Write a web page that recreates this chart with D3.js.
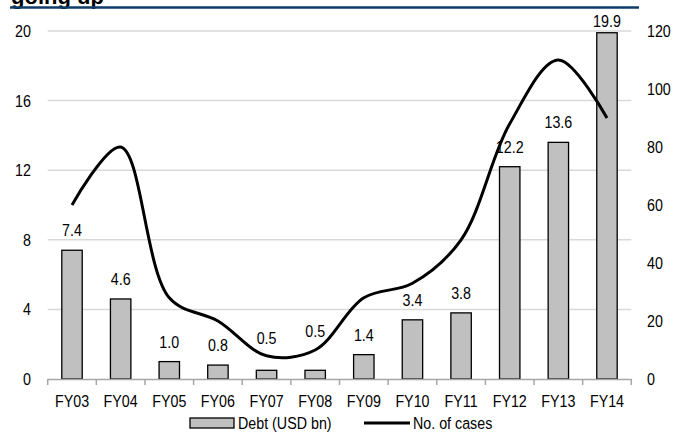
<!DOCTYPE html>
<html>
<head>
<meta charset="utf-8">
<script src="https://cdn.jsdelivr.net/npm/d3@7"></script>
<style>
body { margin:0; background:#fff; }
svg text { font-family:"Liberation Sans",Arial,sans-serif; fill:#000; }
</style>
</head>
<body>
<div id="graph"></div>
<script>
var years = ['FY03','FY04','FY05','FY06','FY07','FY08','FY09','FY10','FY11','FY12','FY13','FY14']
var debt = [7.4, 4.6, 1.0, 0.8, 0.5, 0.5, 1.4, 3.4, 3.8, 12.2, 13.6, 19.9]
var cases = [60, 80, 28, 20, 8, 10, 28, 33, 48, 88, 110, 90]
var leftTicks = [0, 4, 8, 12, 16, 20]
var rightTicks = [0, 20, 40, 60, 80, 100, 120]

// extra lift of some bar labels, as in the source chart (layout only)
var labelLift = [0, 0, 0, 0, 12, 19, 0, 0, 0, 0, 0, 0]

var width = 684
var height = 435
var marginLeft = 47.7
var marginRight = 52.7
var marginTop = 31
var plotBottom = 379
var narrow = 0.84
var fontSize = '17px'

var svg = d3.select('#graph').append('svg')
	.attr('width', width)
	.attr('height', height)

// narrow text: Arial Narrow look by squeezing Liberation Sans
function addText(x, y, txt, anchor) {
	return svg.append('text')
		.attr('transform', 'translate(' + x + ',' + y + ') scale(' + narrow + ',1)')
		.attr('text-anchor', anchor || 'start')
		.style('font-size', fontSize)
		.text(txt)
}

// title, cut off at the top
svg.append('text')
	.attr('x', 11)
	.attr('y', 4)
	.style('font-weight', 'bold')
	.style('font-size', '22px')
	.text('going up')
svg.append('line')
	.attr('x1', 10).attr('x2', 639)
	.attr('y1', 7.5).attr('y2', 7.5)
	.attr('stroke', '#0d3c6b')
	.attr('stroke-width', 2.5)

var xScale = d3.scaleBand()
	.domain(years)
	.range([marginLeft, width - marginRight])
	.paddingInner(0.58)
	.paddingOuter(0.29)

var yLeft = d3.scaleLinear()
	.domain([0, 20])
	.range([plotBottom, marginTop])

var yRight = d3.scaleLinear()
	.domain([0, 120])
	.range([plotBottom, marginTop])

// gridlines
svg.selectAll('.grid')
	.data(leftTicks.slice(1))
	.enter().append('line')
	.attr('class', 'grid')
	.attr('x1', marginLeft).attr('x2', width - marginRight)
	.attr('y1', function(d){ return yLeft(d) })
	.attr('y2', function(d){ return yLeft(d) })
	.attr('stroke', '#d9d9d9')
	.attr('stroke-width', 1.5)

// axis labels
leftTicks.forEach(function(d){
	addText(31, yLeft(d) + 6, d, 'end')
})
rightTicks.forEach(function(d){
	addText(647, yRight(d) + 6, d, 'start')
})

// bars
svg.selectAll('.bar')
	.data(debt)
	.enter().append('rect')
	.attr('class', 'bar')
	.attr('x', function(d, i){ return xScale(years[i]) })
	.attr('width', xScale.bandwidth())
	.attr('y', function(d){ return yLeft(d) })
	.attr('height', function(d){ return plotBottom - yLeft(d) })
	.attr('fill', '#c0c0c0')
	.attr('stroke', '#000')
	.attr('stroke-width', 1.3)

// bar labels
debt.forEach(function(d, i){
	var cx = xScale(years[i]) + xScale.bandwidth() / 2
	var y = Math.max(yLeft(d) - 14 - labelLift[i], 27)
	addText(cx, y, d.toFixed(1), 'middle')
})

// x axis
var step = xScale.step()
svg.append('line')
	.attr('x1', marginLeft).attr('x2', width - marginRight)
	.attr('y1', plotBottom + 0.5).attr('y2', plotBottom + 0.5)
	.attr('stroke', '#a6a6a6')
	.attr('stroke-width', 1.5)
svg.selectAll('.xt')
	.data(d3.range(years.length + 1))
	.enter().append('line')
	.attr('class', 'xt')
	.attr('x1', function(i){ return marginLeft + i * step })
	.attr('x2', function(i){ return marginLeft + i * step })
	.attr('y1', plotBottom).attr('y2', plotBottom + 6)
	.attr('stroke', '#a6a6a6')
	.attr('stroke-width', 1.5)
years.forEach(function(d){
	addText(xScale(d) + xScale.bandwidth() / 2, 407, d, 'middle')
})

// line
var line = d3.line()
	.x(function(d, i){ return xScale(years[i]) + xScale.bandwidth() / 2 })
	.y(function(d){ return yRight(d) })
	.curve(d3.curveCatmullRom.alpha(0.5))
svg.append('path')
	.datum(cases)
	.attr('d', line)
	.attr('fill', 'none')
	.attr('stroke', '#000')
	.attr('stroke-width', 3)

// legend
svg.append('rect')
	.attr('x', 190).attr('y', 418)
	.attr('width', 44).attr('height', 10)
	.attr('fill', '#c0c0c0')
	.attr('stroke', '#000')
	.attr('stroke-width', 1.3)
addText(238, 429, 'Debt (USD bn)', 'start')
svg.append('line')
	.attr('x1', 364).attr('x2', 410)
	.attr('y1', 423).attr('y2', 423)
	.attr('stroke', '#000')
	.attr('stroke-width', 3)
addText(413, 429, 'No. of cases', 'start')
</script>
</body>
</html>
